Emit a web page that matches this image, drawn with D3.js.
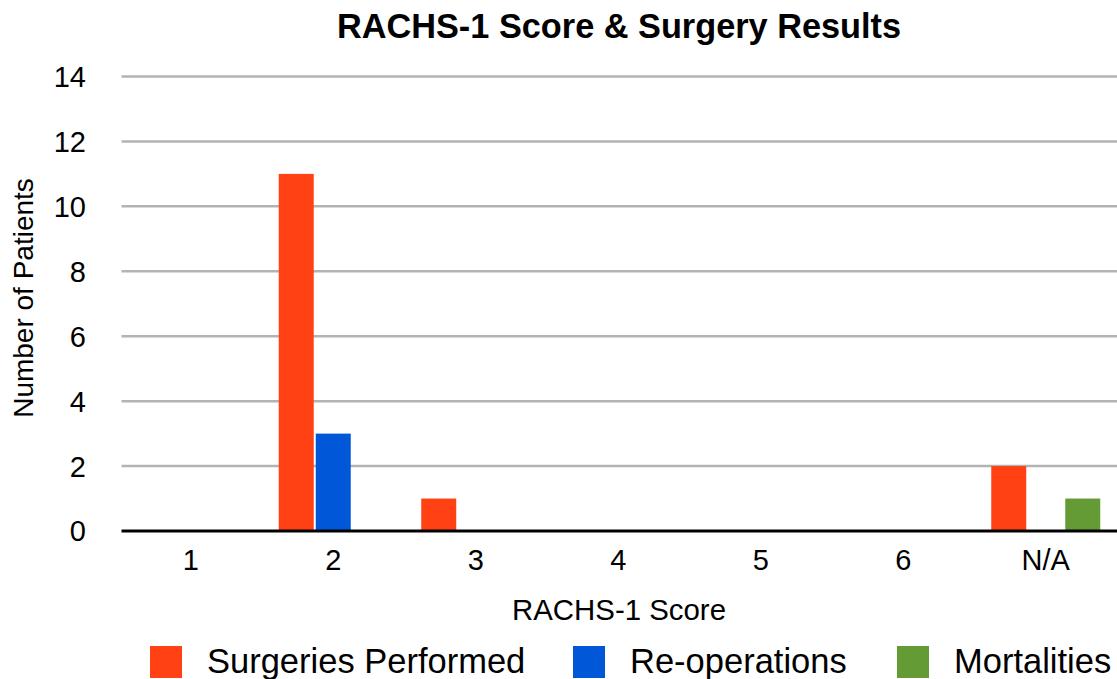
<!DOCTYPE html>
<html>
<head>
<meta charset="utf-8">
<script src="https://cdnjs.cloudflare.com/ajax/libs/d3/7.8.5/d3.min.js"></script>
<style>
  body { margin: 0; background: #fff; }
  svg text { font-family: "Liberation Sans", Arial, sans-serif; fill: #000; }
</style>
</head>
<body>
<svg id="chart" width="1117" height="679"></svg>
<script>
// categories on the x axis
const scores = ["1", "2", "3", "4", "5", "6", "N/A"];
// series names + values (one per score)
const seriesNames = ["Surgeries Performed", "Re-operations", "Mortalities"];
const surgeries = [0, 11, 1, 0, 0, 0, 2];
const reoperations = [0, 3, 0, 0, 0, 0, 0];
const mortalities = [0, 0, 0, 0, 0, 0, 1];
const seriesColors = ["#ff4114", "#0057d8", "#659b35"];
const yTicks = [0, 2, 4, 6, 8, 10, 12, 14];

const allSeries = [surgeries, reoperations, mortalities];

const w = 1117, h = 679;
const margin = { left: 119.5, right: 0, top: 76.5, bottom: 148 };

let svg = d3.select("#chart");

// x scale for score groups
let x0 = d3.scaleBand()
    .domain(scores)
    .range([margin.left, w - margin.right]);

// inner scale for the three bars in a group
let x1 = d3.scaleBand()
    .domain(seriesNames)
    .range([-54.5, 54.5])
    .paddingInner(0.055);

let y = d3.scaleLinear()
    .domain([0, 14])
    .range([h - margin.bottom, margin.top]);

// gridlines
svg.append("g")
    .selectAll("line")
    .data(yTicks.filter(d => d > 0))
    .enter()
    .append("line")
    .attr("x1", margin.left + 2)
    .attr("x2", w)
    .attr("y1", d => y(d))
    .attr("y2", d => y(d))
    .attr("stroke", "#b3b3b3")
    .attr("stroke-width", 2.5);

// y tick labels
svg.append("g")
    .selectAll("text")
    .data(yTicks)
    .enter()
    .append("text")
    .attr("x", 86)
    .attr("y", d => y(d))
    .attr("dy", "0.36em")
    .attr("text-anchor", "end")
    .style("font-size", "29px")
    .text(d => d);

// bars
let groups = svg.append("g")
    .selectAll("g")
    .data(scores)
    .enter()
    .append("g")
    .attr("transform", d => "translate(" + (x0(d) + x0.bandwidth() / 2) + ",0)");

groups.selectAll("rect")
    .data((d, i) => seriesNames.map((s, j) => ({ s: s, j: j, v: allSeries[j][i] })))
    .enter()
    .append("rect")
    .filter(d => d.v > 0)
    .attr("x", d => x1(d.s))
    .attr("width", x1.bandwidth())
    .attr("y", d => y(d.v))
    .attr("height", d => y(0) - y(d.v))
    .attr("fill", d => seriesColors[d.j]);

// baseline
svg.append("line")
    .attr("x1", margin.left + 2)
    .attr("x2", w)
    .attr("y1", y(0))
    .attr("y2", y(0))
    .attr("stroke", "#000")
    .attr("stroke-width", 3);

// x tick labels
svg.append("g")
    .selectAll("text")
    .data(scores)
    .enter()
    .append("text")
    .attr("x", d => x0(d) + x0.bandwidth() / 2)
    .attr("y", 570)
    .attr("text-anchor", "middle")
    .style("font-size", "29px")
    .text(d => d);

// title
svg.append("text")
    .attr("x", 619)
    .attr("y", 38)
    .attr("text-anchor", "middle")
    .style("font-size", "34.3px")
    .style("font-weight", "bold")
    .text("RACHS-1 Score & Surgery Results");

// axis titles
svg.append("text")
    .attr("x", 619)
    .attr("y", 620)
    .attr("text-anchor", "middle")
    .style("font-size", "29.4px")
    .text("RACHS-1 Score");

svg.append("text")
    .attr("transform", "translate(33,298) rotate(-90)")
    .attr("text-anchor", "middle")
    .style("font-size", "28px")
    .text("Number of Patients");

// legend
let legendX = [150, 573, 897];
let legend = svg.append("g")
    .selectAll("g")
    .data(seriesNames)
    .enter()
    .append("g")
    .attr("transform", (d, i) => "translate(" + legendX[i] + ",646)");

legend.append("rect")
    .attr("width", 32)
    .attr("height", 32)
    .attr("fill", (d, i) => seriesColors[i]);

legend.append("text")
    .attr("x", 57)
    .attr("y", 27)
    .style("font-size", "34.5px")
    .text(d => d);
</script>
</body>
</html>
